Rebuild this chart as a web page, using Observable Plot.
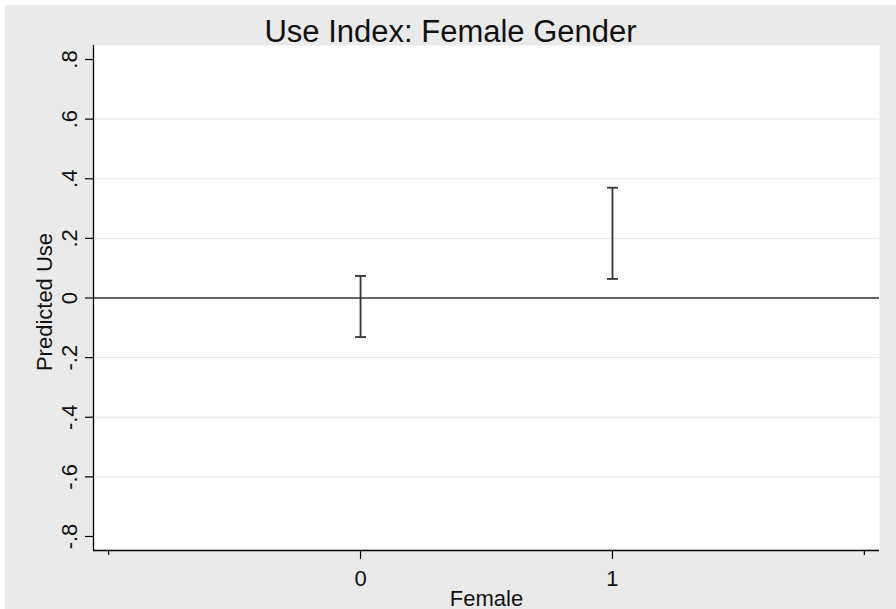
<!DOCTYPE html>
<html>
<head>
<meta charset="utf-8">
<script src="https://cdn.jsdelivr.net/npm/d3@7"></script>
<script src="https://cdn.jsdelivr.net/npm/@observablehq/plot@0.6"></script>
<style>
  html, body { margin: 0; padding: 0; background: #ffffff; }
  #panel {
    position: absolute; left: 5px; top: 5px; width: 891px; height: 604px;
    background: #eaeaea; overflow: hidden;
    font-family: "Liberation Sans", Arial, sans-serif; color: #111;
  }
  #title {
    position: absolute; left: 0; top: 12px; width: 100%;
    text-align: center; font-size: 31px; line-height: 30px;
  }
  #chart { position: absolute; left: 0; top: 40px; }
</style>
</head>
<body>
<div id="panel">
  <div id="title">Use Index: Female Gender</div>
  <div id="chart"></div>
</div>
<script>
// Predicted use by gender: 95% confidence interval bounds
const categories = [0, 1];
const lower = [-0.131, 0.064];
const upper = [0.074, 0.370];

// Axis ticks and their labels
const yTicks = [-0.8, -0.6, -0.4, -0.2, 0, 0.2, 0.4, 0.6, 0.8];
const yTickLabels = ["-.8", "-.6", "-.4", "-.2", "0", ".2", ".4", ".6", ".8"];
const yGridTicks = [-0.6, -0.4, -0.2, 0.2, 0.4, 0.6];
const xTicks = [0, 1];
const xTickLabels = ["0", "1"];
const xMinorTicks = [-1, 2];

const xLabel = "Female";
const yLabel = "Predicted Use";

const data = categories.map((c, i) => ({x: c, lo: lower[i], hi: upper[i]}));

const xDomain = [-1.06, 2.06];
const yDomain = [-0.847, 0.847];

// horizontal line glyph used for the interval caps
const capSymbol = {
  draw(context, size) {
    const w = Math.sqrt(size / Math.PI);
    context.moveTo(-w, 0);
    context.lineTo(w, 0);
  }
};

const font = "'Liberation Sans', Arial, sans-serif";
const ink = "#333333";

const chart = Plot.plot({
  width: 891,
  height: 564,
  marginLeft: 88,
  marginRight: 17,
  marginTop: 0,
  marginBottom: 59,
  style: {background: "transparent", fontFamily: font, fontSize: "22px", color: "#111"},
  x: {domain: xDomain, axis: null},
  y: {domain: yDomain, axis: null},
  marks: [
    Plot.frame({fill: "white", stroke: "none"}),
    Plot.gridY(yGridTicks, {stroke: "#e6e6e6", strokeOpacity: 1, strokeWidth: 1}),
    Plot.ruleY([0], {stroke: ink, strokeWidth: 1.6}),
    // axis lines on the left and bottom only
    Plot.ruleX([xDomain[0]], {stroke: "#000", strokeWidth: 1.3}),
    Plot.ruleY([yDomain[0]], {stroke: "#000", strokeWidth: 1.3}),
    // y axis: tick marks, then vertical tick labels
    Plot.axisY({
      ticks: yTicks,
      tickSize: 8,
      tickFormat: () => "",
      label: null,
      stroke: "#000",
      strokeWidth: 1.2
    }),
    Plot.axisY({
      ticks: yTicks,
      tickSize: 0,
      tickPadding: 17,
      tickFormat: (d) => yTickLabels[yTicks.indexOf(d)],
      label: null,
      rotate: -90,
      textAnchor: "middle",
      lineAnchor: "bottom",
      fontSize: 22
    }),
    // x axis: labelled major ticks, unlabelled minor ticks at the ends
    Plot.axisX({
      ticks: xTicks,
      tickSize: 9,
      tickPadding: 11,
      tickFormat: (d) => xTickLabels[xTicks.indexOf(d)],
      label: null,
      fontSize: 22,
      stroke: "#000",
      strokeWidth: 1.2
    }),
    Plot.axisX({
      ticks: xMinorTicks,
      tickSize: 5,
      tickFormat: () => "",
      label: null,
      stroke: "#000",
      strokeWidth: 1.2
    }),
    Plot.text([xLabel], {frameAnchor: "bottom", dy: 40, lineAnchor: "top", fontSize: 22}),
    Plot.text([yLabel], {frameAnchor: "left", dx: -42, dy: 4, rotate: -90, lineAnchor: "bottom", textAnchor: "middle", fontSize: 22}),
    // confidence intervals
    Plot.ruleX(data, {x: "x", y1: "lo", y2: "hi", stroke: ink, strokeWidth: 1.8}),
    Plot.dot(data, {x: "x", y: "hi", symbol: capSymbol, r: 5.5, stroke: ink, strokeWidth: 1.8, fill: "none"}),
    Plot.dot(data, {x: "x", y: "lo", symbol: capSymbol, r: 5.5, stroke: ink, strokeWidth: 1.8, fill: "none"})
  ]
});

document.getElementById("chart").appendChild(chart);
</script>
</body>
</html>
